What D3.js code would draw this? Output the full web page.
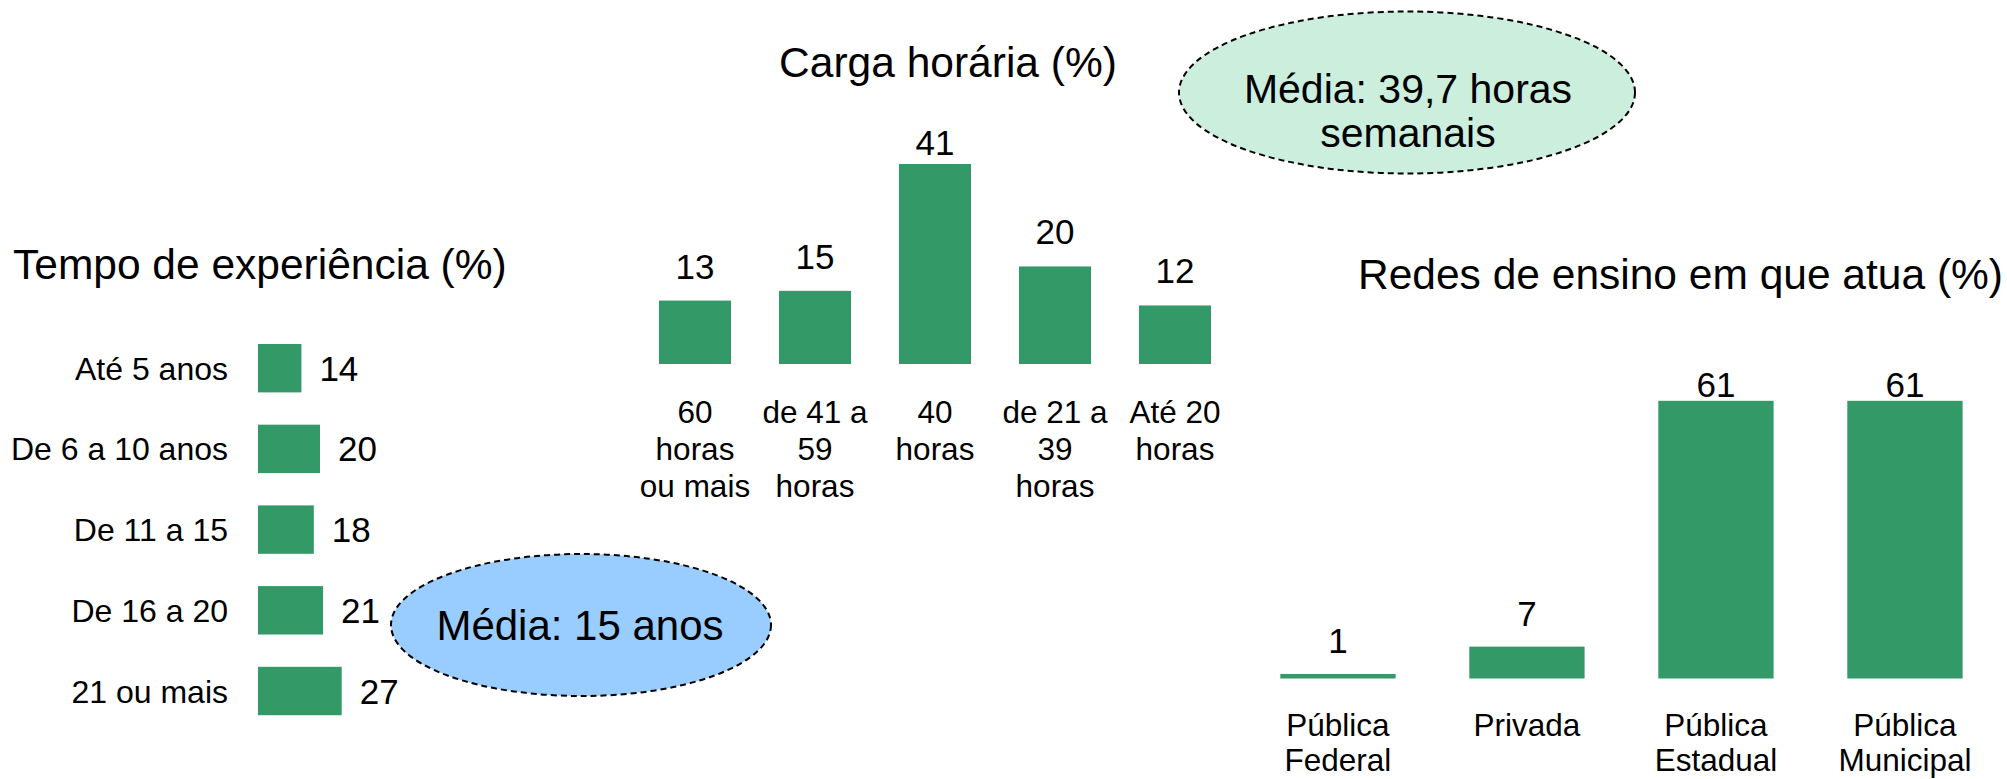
<!DOCTYPE html>
<html>
<head>
<meta charset="utf-8">
<script src="https://cdn.jsdelivr.net/npm/d3@7"></script>
<style>
  body { margin: 0; background: #fff; }
  text { font-family: "Liberation Sans", Arial, sans-serif; fill: #000; }
</style>
</head>
<body>
<div class="container"></div>
<script>
let width = 2007
let height = 779
let green = "#339966"

// Tempo de experiência (%)
let expCategories = ["Até 5 anos", "De 6 a 10 anos", "De 11 a 15", "De 16 a 20", "21 ou mais"]
let expValues = [14, 20, 18, 21, 27]

// Carga horária (%)
let cargaCategories = [["60", "horas", "ou mais"], ["de 41 a", "59", "horas"], ["40", "horas"], ["de 21 a", "39", "horas"], ["Até 20", "horas"]]
let cargaValues = [13, 15, 41, 20, 12]

// Redes de ensino em que atua (%)
let redesCategories = [["Pública", "Federal"], ["Privada"], ["Pública", "Estadual"], ["Pública", "Municipal"]]
let redesValues = [1, 7, 61, 61]

let svg = d3.select(".container")
  .append("svg")
  .attr("width", width)
  .attr("height", height)

// ---------- left chart: horizontal bars ----------
let expData = expCategories.map(function (c, i) { return {cat: c, value: expValues[i]} })

let yExp = d3.scaleBand()
  .domain(expCategories)
  .range([311.7, 747.5])
  .padding(0.4)

let xExp = d3.scaleLinear()
  .domain([0, 27])
  .range([258, 341.7])

svg.append("text")
  .attr("x", 13)
  .attr("y", 279)
  .attr("font-size", "42.5px")
  .text("Tempo de experiência (%)")

let gExp = svg.append("g")

gExp.selectAll("rect")
  .data(expData)
  .enter()
  .append("rect")
  .attr("x", xExp(0))
  .attr("y", function (d) { return yExp(d.cat) })
  .attr("width", function (d) { return xExp(d.value) - xExp(0) })
  .attr("height", yExp.bandwidth())
  .style("fill", green)

gExp.selectAll(".catText")
  .data(expData)
  .enter()
  .append("text")
  .attr("class", "catText")
  .attr("x", 228)
  .attr("y", function (d) { return yExp(d.cat) + yExp.bandwidth() / 2 })
  .attr("dy", "0.36em")
  .attr("text-anchor", "end")
  .attr("font-size", "32px")
  .text(function (d) { return d.cat })

gExp.selectAll(".valText")
  .data(expData)
  .enter()
  .append("text")
  .attr("class", "valText")
  .attr("x", function (d) { return xExp(d.value) + 18 })
  .attr("y", function (d) { return yExp(d.cat) + yExp.bandwidth() / 2 })
  .attr("dy", "0.36em")
  .attr("font-size", "35px")
  .text(function (d) { return d.value })

// bubble "Média: 15 anos"
svg.append("ellipse")
  .attr("cx", 581)
  .attr("cy", 625)
  .attr("rx", 190)
  .attr("ry", 71)
  .style("fill", "#99ccff")
  .style("stroke", "#000")
  .style("stroke-width", 2)
  .style("stroke-dasharray", "6,4")

svg.append("text")
  .attr("x", 580)
  .attr("y", 640)
  .attr("text-anchor", "middle")
  .attr("font-size", "42px")
  .text("Média: 15 anos")

// ---------- middle chart: Carga horária ----------
let cargaData = cargaCategories.map(function (c, i) { return {cat: c, key: c.join(" "), value: cargaValues[i]} })

let xCarga = d3.scaleBand()
  .domain(cargaData.map(function (d) { return d.key }))
  .range([611, 1259])
  .padding(0.4)

let yCarga = d3.scaleLinear()
  .domain([0, 41])
  .range([364, 164])

svg.append("text")
  .attr("x", 948)
  .attr("y", 77)
  .attr("text-anchor", "middle")
  .attr("font-size", "42.5px")
  .text("Carga horária (%)")

let gCarga = svg.append("g")

gCarga.selectAll("rect")
  .data(cargaData)
  .enter()
  .append("rect")
  .attr("x", function (d) { return xCarga(d.key) })
  .attr("y", function (d) { return yCarga(d.value) })
  .attr("width", xCarga.bandwidth())
  .attr("height", function (d) { return yCarga(0) - yCarga(d.value) })
  .style("fill", green)

gCarga.selectAll(".valText")
  .data(cargaData)
  .enter()
  .append("text")
  .attr("class", "valText")
  .attr("x", function (d) { return xCarga(d.key) + xCarga.bandwidth() / 2 })
  .attr("y", function (d) { return Math.max(yCarga(d.value) - 22, 155) })
  .attr("text-anchor", "middle")
  .attr("font-size", "35px")
  .text(function (d) { return d.value })

let cargaLabels = gCarga.selectAll(".catText")
  .data(cargaData)
  .enter()
  .append("text")
  .attr("class", "catText")
  .attr("text-anchor", "middle")
  .attr("font-size", "31.5px")

cargaLabels.selectAll("tspan")
  .data(function (d) { return d.cat.map(function (line, i) { return {line: line, i: i, x: xCarga(d.key) + xCarga.bandwidth() / 2} }) })
  .enter()
  .append("tspan")
  .attr("x", function (d) { return d.x })
  .attr("y", function (d) { return yCarga(0) + 59 + d.i * 37 })
  .text(function (d) { return d.line })

// bubble "Média: 39,7 horas semanais"
svg.append("ellipse")
  .attr("cx", 1407)
  .attr("cy", 92.5)
  .attr("rx", 228)
  .attr("ry", 81)
  .style("fill", "#cceedd")
  .style("stroke", "#000")
  .style("stroke-width", 2)
  .style("stroke-dasharray", "6,4")

svg.append("text")
  .attr("text-anchor", "middle")
  .attr("font-size", "41px")
  .selectAll("tspan")
  .data(["Média: 39,7 horas", "semanais"])
  .enter()
  .append("tspan")
  .attr("x", 1408)
  .attr("y", function (d, i) { return 103 + i * 44 })
  .text(function (d) { return d })

// ---------- right chart: Redes de ensino ----------
let redesData = redesCategories.map(function (c, i) { return {cat: c, key: c.join(" "), value: redesValues[i]} })

let xRedes = d3.scaleBand()
  .domain(redesData.map(function (d) { return d.key }))
  .range([1206.6, 2036.3])
  .padding(0.39)

let yRedes = d3.scaleLinear()
  .domain([0, 61])
  .range([678.5, 400.8])

svg.append("text")
  .attr("x", 1358)
  .attr("y", 289)
  .attr("font-size", "42.5px")
  .text("Redes de ensino em que atua (%)")

let gRedes = svg.append("g")

gRedes.selectAll("rect")
  .data(redesData)
  .enter()
  .append("rect")
  .attr("x", function (d) { return xRedes(d.key) })
  .attr("y", function (d) { return yRedes(d.value) })
  .attr("width", xRedes.bandwidth())
  .attr("height", function (d) { return yRedes(0) - yRedes(d.value) })
  .style("fill", green)

gRedes.selectAll(".valText")
  .data(redesData)
  .enter()
  .append("text")
  .attr("class", "valText")
  .attr("x", function (d) { return xRedes(d.key) + xRedes.bandwidth() / 2 })
  .attr("y", function (d) { return Math.max(yRedes(d.value) - 21, 397) })
  .attr("text-anchor", "middle")
  .attr("font-size", "35px")
  .text(function (d) { return d.value })

let redesLabels = gRedes.selectAll(".catText")
  .data(redesData)
  .enter()
  .append("text")
  .attr("class", "catText")
  .attr("text-anchor", "middle")
  .attr("font-size", "31.5px")

// second line kept just inside the bottom edge
redesLabels.selectAll("tspan")
  .data(function (d) { return d.cat.map(function (line, i) { return {line: line, i: i, x: xRedes(d.key) + xRedes.bandwidth() / 2} }) })
  .enter()
  .append("tspan")
  .attr("x", function (d) { return d.x })
  .attr("y", function (d) { return yRedes(0) + 57 + d.i * 35 })
  .text(function (d) { return d.line })
</script>
</body>
</html>
